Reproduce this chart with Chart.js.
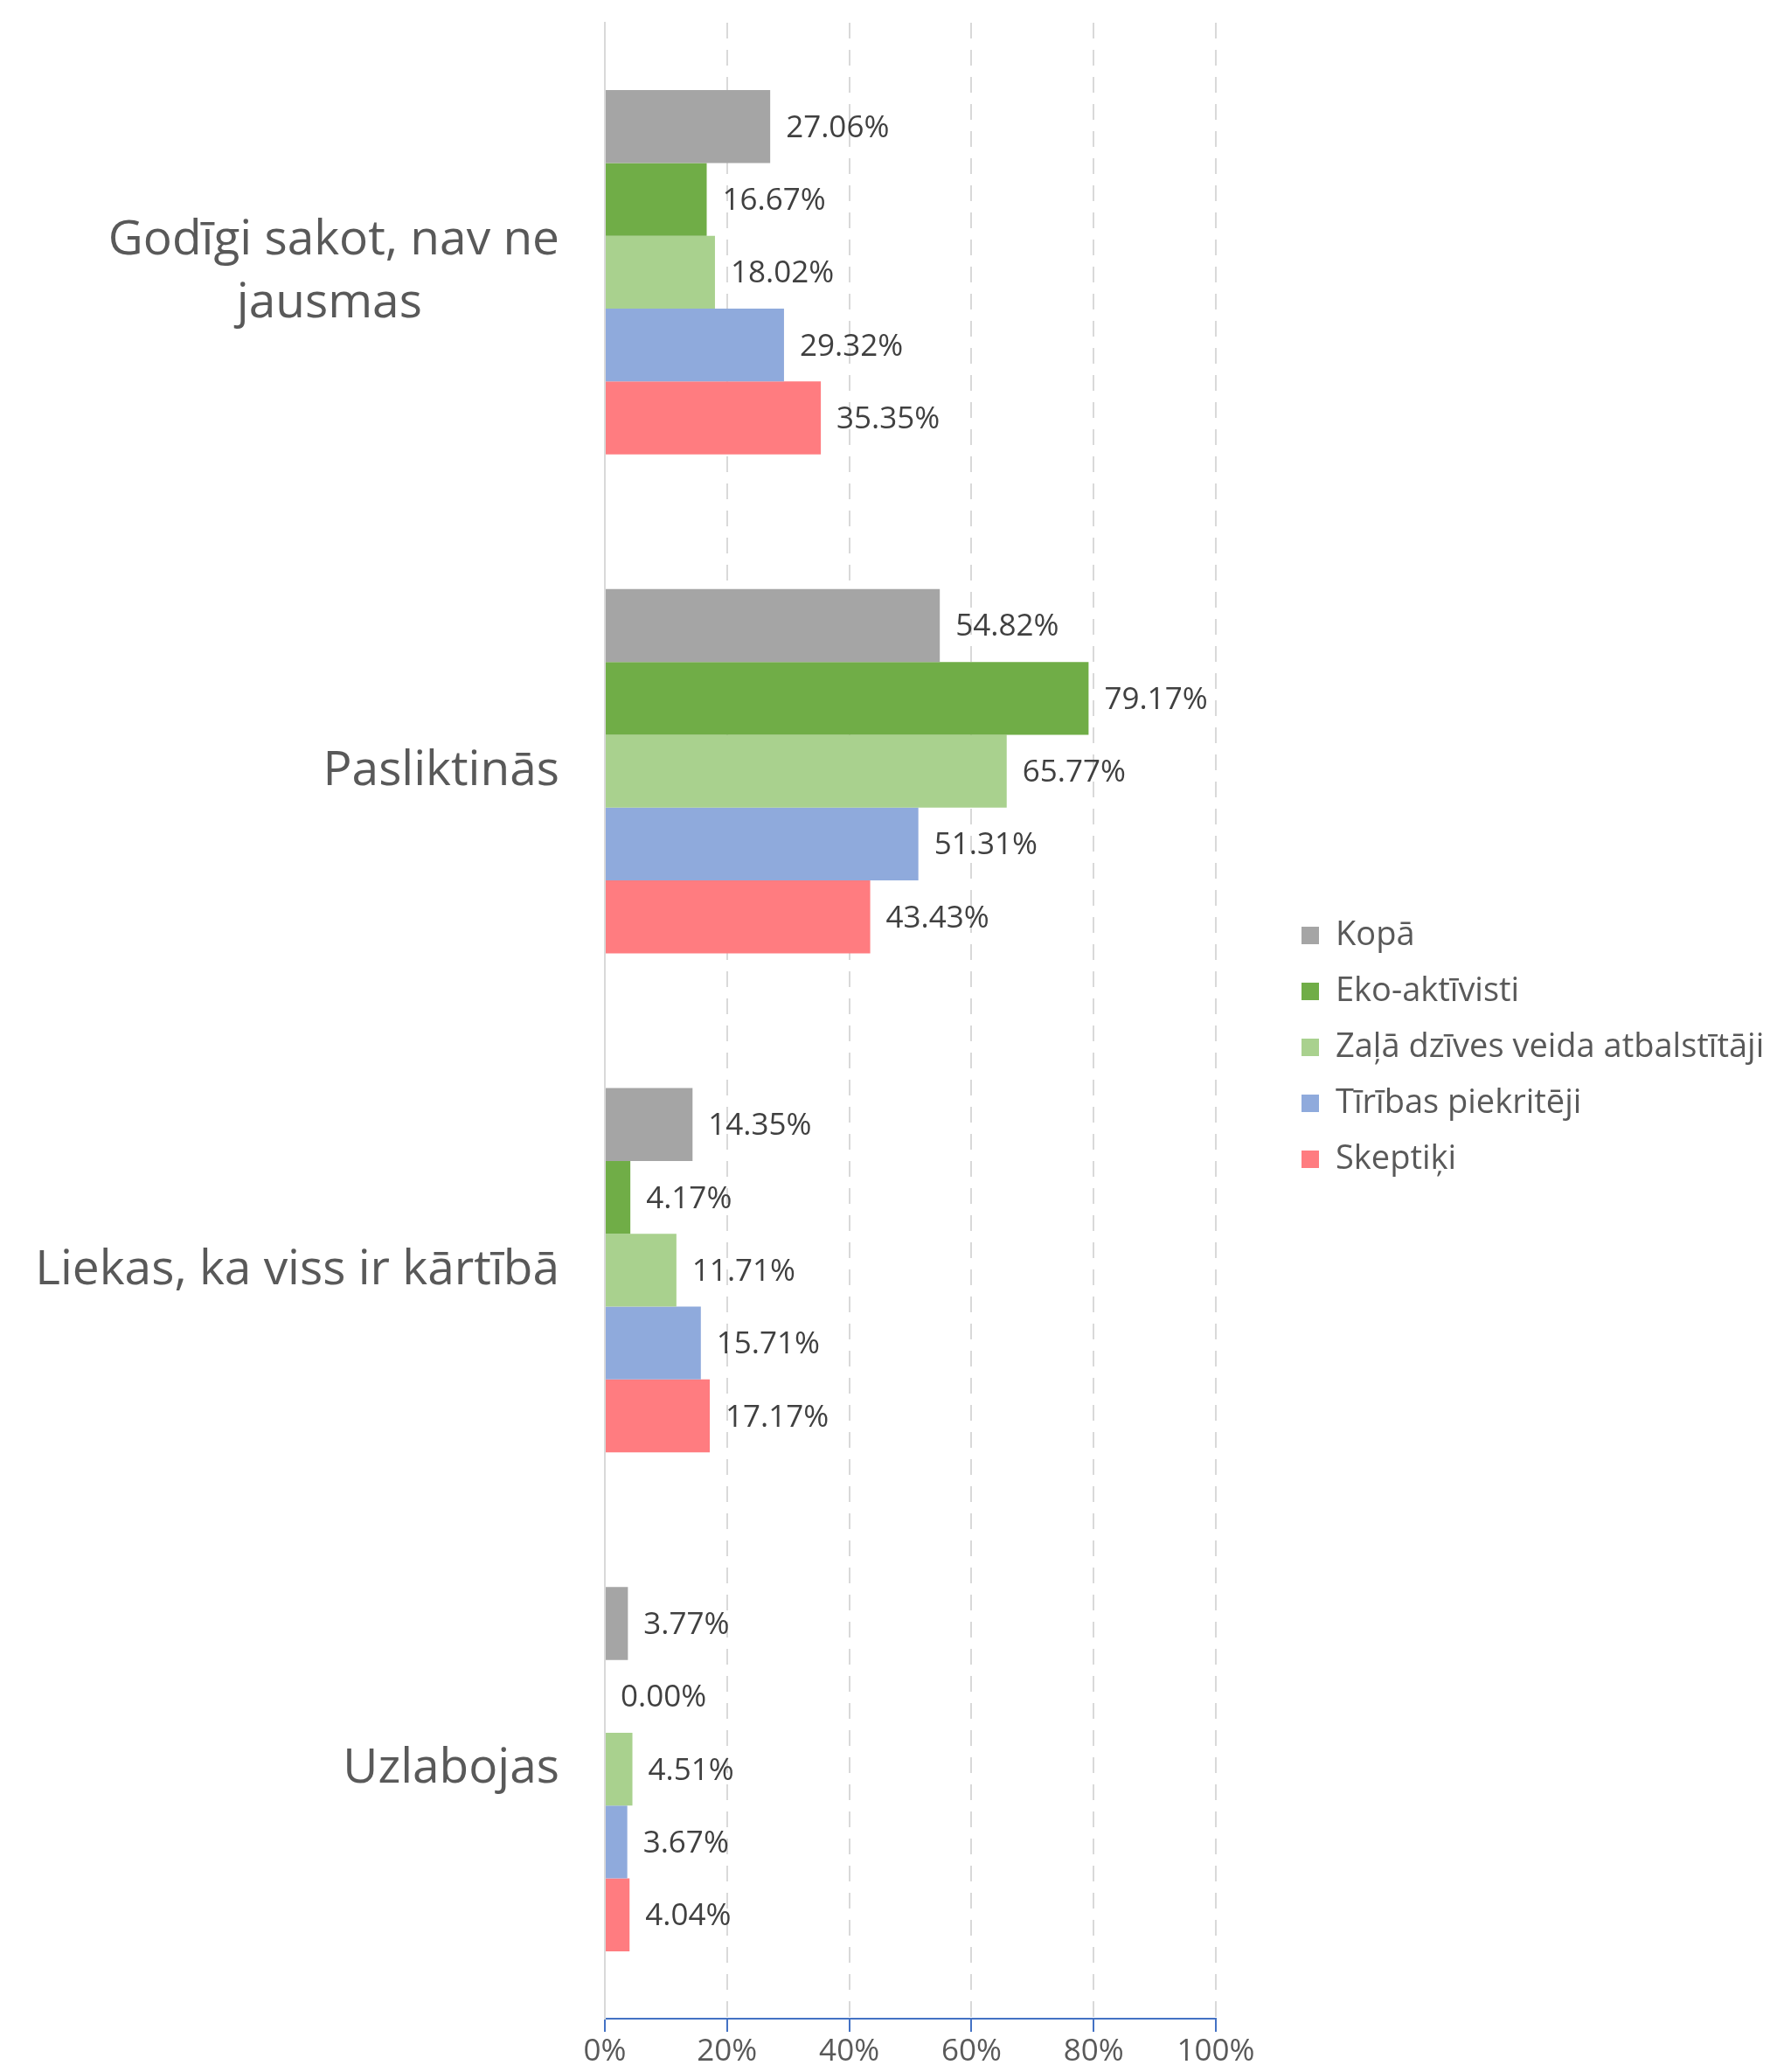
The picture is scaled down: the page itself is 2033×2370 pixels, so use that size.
<!DOCTYPE html>
<html>
<head>
<meta charset="utf-8">
<title>Vides stāvoklis</title>
<script src="https://cdn.jsdelivr.net/npm/chart.js@4.4.1/dist/chart.umd.min.js"></script>
<style>
  html, body { margin: 0; padding: 0; background: #fff; }
  #wrap { width: 2033px; height: 2370px; }
</style>
</head>
<body>
<div id="wrap">
  <canvas id="chart" width="2033" height="2370"></canvas>
</div>
<script>
// --- data ---
const categories = [
  ['Godīgi sakot, nav ne', 'jausmas'],
  'Pasliktinās',
  'Liekas, ka viss ir kārtībā',
  'Uzlabojas'
];
const seriesNames = ['Kopā', 'Eko-aktīvisti', 'Zaļā dzīves veida atbalstītāji', 'Tīrības piekritēji', 'Skeptiķi'];
const kopa = [27.06, 54.82, 14.35, 3.77];
const ekoAktivisti = [16.67, 79.17, 4.17, 0.00];
const zalaDzive = [18.02, 65.77, 11.71, 4.51];
const tiribas = [29.32, 51.31, 15.71, 3.67];
const skeptiki = [35.35, 43.43, 17.17, 4.04];
const seriesColors = ['#A5A5A5', '#70AD47', '#A9D18E', '#8FAADC', '#FF7C80'];
const xTicks = [0, 20, 40, 60, 80, 100];

const FONT = '"Open Sans", sans-serif';
const PLOT_LEFT = 692;     // where the 0% line sits
const PLOT_RIGHT = 2033 - 642;
const LEGEND_INSET = 72;   // gap between plot and legend squares

Chart.defaults.font.family = FONT;
Chart.defaults.color = '#595959';

// pad shorter lines of a wrapped label so the block reads centred
function centerLines(lines, font) {
  const ctx = document.createElement('canvas').getContext('2d');
  ctx.font = font;
  const widest = Math.max(...lines.map(l => ctx.measureText(l).width));
  const sp = ctx.measureText('\u00A0').width;
  return lines.map(l => l + '\u00A0'.repeat(Math.round((widest - ctx.measureText(l).width) / 2 / sp)));
}

// value labels at the end of each bar
const valueLabels = {
  id: 'valueLabels',
  afterDatasetsDraw(chart) {
    const ctx = chart.ctx;
    ctx.save();
    ctx.font = '35px ' + FONT;
    ctx.fillStyle = '#404040';
    ctx.textAlign = 'left';
    ctx.textBaseline = 'middle';
    chart.data.datasets.forEach((ds, i) => {
      chart.getDatasetMeta(i).data.forEach((bar, j) => {
        ctx.fillText(ds.data[j].toFixed(2) + '%', bar.x + 18, bar.y + 2);
      });
    });
    ctx.restore();
  }
};

// keep the legend column a fixed width and push it away from the plot
const legendPlacement = {
  id: 'legendPlacement',
  beforeLayout(chart) {
    const legend = chart.legend;
    if (legend && !legend._fixedFit) {
      const fit = legend.fit.bind(legend);
      legend.fit = function () {
        fit();
        if (this.isHorizontal && !this.isHorizontal()) this.width = 2033 - PLOT_RIGHT;
      };
      legend._fixedFit = true;
    }
  },
  afterLayout(chart) {
    chart.legend.left += LEGEND_INSET;
  }
};

const seriesData = [kopa, ekoAktivisti, zalaDzive, tiribas, skeptiki];
const datasets = seriesNames.map((name, i) => ({
  label: name,
  data: seriesData[i],
  backgroundColor: seriesColors[i],
  borderWidth: 0,
  barPercentage: 1.0,
  categoryPercentage: 0.73
}));

new Chart(document.getElementById('chart').getContext('2d'), {
  type: 'bar',
  data: { labels: categories, datasets },
  plugins: [valueLabels, legendPlacement],
  options: {
    indexAxis: 'y',
    responsive: false,
    animation: false,
    layout: { padding: { top: 26, right: 0, bottom: 0, left: 0 } },
    plugins: {
      legend: {
        position: 'right',
        labels: {
          color: '#595959',
          font: { size: 38 },
          boxWidth: 20,
          boxHeight: 20,
          padding: 26
        }
      },
      tooltip: { enabled: false }
    },
    scales: {
      x: {
        min: 0,
        max: 100,
        afterBuildTicks(scale) {
          scale.ticks = xTicks.map(v => ({ value: v }));
        },
        ticks: {
          color: '#595959',
          font: { size: 35 },
          padding: 2,
          callback: v => v + '%'
        },
        grid: {
          color: '#D9D9D9',
          lineWidth: 2,
          drawTicks: true,
          tickLength: 15,
          tickColor: '#4472C4',
          tickWidth: 2,
          tickBorderDash: []
        },
        border: { display: true, color: '#4472C4', width: 2, dash: [18, 13] }
      },
      y: {
        afterFit(scale) {
          scale.width = PLOT_LEFT;
          // category labels sit mid-band, so no overflow room is needed
          scale.paddingTop = 0;
          scale.paddingBottom = 0;
        },
        ticks: {
          color: '#595959',
          font: { size: 55, lineHeight: 1.3 },
          padding: 52,
          callback(value) {
            const lbl = categories[value];
            return Array.isArray(lbl) ? centerLines(lbl, '55px ' + FONT) : lbl;
          }
        },
        grid: { display: false, drawTicks: false },
        border: { display: true, color: '#D9D9D9', width: 2 }
      }
    }
  }
});
</script>
</body>
</html>
